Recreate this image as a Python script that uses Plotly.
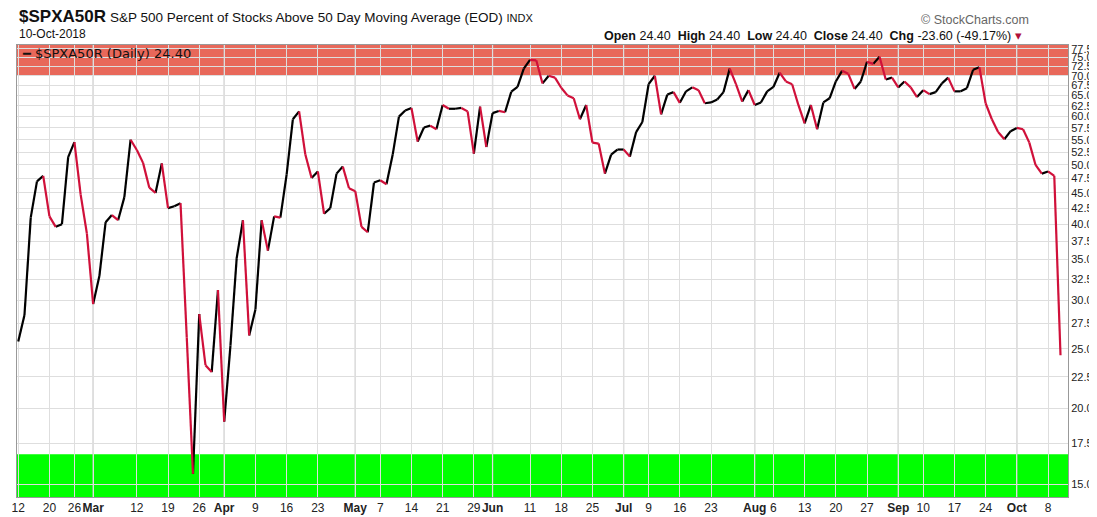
import math
import pandas as pd
import plotly.graph_objects as go

# trading days Feb 12 - Oct 10 2018 (US market holidays removed)
holidays = ["2018-02-19", "2018-03-30", "2018-05-28", "2018-07-04", "2018-09-03"]
dates = [d for d in pd.bdate_range("2018-02-12", "2018-10-10") if d.strftime("%Y-%m-%d") not in holidays]

values = [
    25.7, 28.4, 41.0, 47.0, 48.0, 41.2, 39.6, 40.0, 51.5, 54.5, 44.7, 38.6,
    29.6, 32.9, 40.3, 41.4, 40.6, 44.3, 55.0, 52.9, 50.4, 45.9, 45.0, 50.3,
    42.5, 42.8, 43.3, 26.1, 15.6, 28.5, 23.5, 22.9, 31.2, 19.0, 25.3, 35.2,
    40.6, 26.3, 29.0, 40.6, 36.2, 41.2, 41.0, 48.2, 59.4, 61.2, 52.0, 47.6,
    48.8, 41.6, 42.5, 48.4, 49.7, 45.8, 45.3, 39.6, 38.8, 46.8, 47.2, 46.5,
    52.0, 60.0, 61.4, 62.0, 54.6, 57.6, 58.0, 57.2, 62.7, 61.8, 61.8, 62.0,
    61.2, 52.2, 62.3, 53.5, 60.8, 61.3, 61.0, 65.9, 67.1, 71.9, 74.3, 74.2,
    68.0, 70.0, 69.5, 66.9, 65.0, 64.3, 59.4, 62.7, 54.4, 54.2, 48.4, 52.0,
    53.0, 53.0, 51.6, 56.6, 58.8, 67.8, 70.0, 60.5, 65.2, 65.8, 63.2, 66.0,
    67.0, 66.3, 63.1, 63.3, 64.0, 65.8, 71.9, 67.8, 63.5, 66.3, 62.7, 63.3,
    66.0, 67.1, 70.8, 68.5, 67.8, 62.7, 58.5, 62.7, 57.2, 63.3, 64.3, 68.5,
    71.3, 70.5, 66.6, 68.5, 73.8, 73.2, 75.2, 69.0, 69.5, 67.0, 68.5, 67.0,
    64.6, 66.3, 65.3, 65.8, 68.0, 69.5, 66.0, 66.0, 66.8, 71.6, 72.3, 63.1,
    59.4, 56.6, 55.1, 56.8, 57.5, 57.2, 54.4, 50.0, 48.4, 48.8, 48.0, 24.4,
]

tick_dates = ["2018-02-12", "2018-02-20", "2018-02-26", "2018-03-01", "2018-03-12", "2018-03-19",
              "2018-03-26", "2018-04-02", "2018-04-09", "2018-04-16", "2018-04-23", "2018-05-01",
              "2018-05-07", "2018-05-14", "2018-05-21", "2018-05-29", "2018-06-01", "2018-06-11",
              "2018-06-18", "2018-06-25", "2018-07-02", "2018-07-09", "2018-07-16", "2018-07-23",
              "2018-08-01", "2018-08-06", "2018-08-13", "2018-08-20", "2018-08-27", "2018-09-04",
              "2018-09-10", "2018-09-17", "2018-09-24", "2018-10-01", "2018-10-08"]
tick_labels = ["12", "20", "26", "<b>Mar</b>", "12", "19", "26", "<b>Apr</b>", "9", "16", "23", "<b>May</b>",
               "7", "14", "21", "29", "<b>Jun</b>", "11", "18", "25", "<b>Jul</b>", "9", "16", "23",
               "<b>Aug</b>", "6", "13", "20", "27", "<b>Sep</b>", "10", "17", "24", "<b>Oct</b>", "8"]
y_ticks = [15.0, 17.5, 20.0, 22.5, 25.0, 27.5, 30.0, 32.5, 35.0, 37.5, 40.0, 42.5, 45.0, 47.5, 50.0,
           52.5, 55.0, 57.5, 60.0, 62.5, 65.0, 67.5, 70.0, 72.5, 75.0, 77.5]

date_strs = [d.strftime("%Y-%m-%d") for d in dates]
tick_pos = [date_strs.index(t) for t in tick_dates]
month_pos = [p for p, l in zip(tick_pos, tick_labels) if l.startswith("<b>")]

# split the line into rising (black) and falling (red) segments
up_x, up_y, dn_x, dn_y = [], [], [], []
for i in range(len(values) - 1):
    if values[i + 1] >= values[i]:
        up_x += [i, i + 1, None]; up_y += [values[i], values[i + 1], None]
    else:
        dn_x += [i, i + 1, None]; dn_y += [values[i], values[i + 1], None]

fig = go.Figure()
fig.add_trace(go.Scatter(x=up_x, y=up_y, mode="lines", line=dict(color="black", width=2.2), hoverinfo="skip"))
fig.add_trace(go.Scatter(x=dn_x, y=dn_y, mode="lines", line=dict(color="#d0103a", width=2.2), hoverinfo="skip"))

xr = [-0.2, len(values) - 1 + 1.2]
yr = [14.3, 78.6]
# overbought / oversold bands
fig.add_shape(type="rect", xref="paper", x0=0, x1=1, yref="y", y0=70, y1=yr[1],
              fillcolor="#e8685a", line_width=0, layer="below")
fig.add_shape(type="rect", xref="paper", x0=0, x1=1, yref="y", y0=yr[0], y1=16.8,
              fillcolor="#00ff00", line_width=0, layer="below")
for p in month_pos:
    fig.add_shape(type="line", x0=p, x1=p, yref="paper", y0=0, y1=1, line=dict(color="#c4c4c4", width=1.3),
                  layer="below")

fig.update_xaxes(range=xr, tickvals=tick_pos, ticktext=tick_labels, showgrid=True, gridcolor="#dedede",
                 zeroline=False, showline=True, linecolor="#999999", mirror=True, ticks="", tickangle=0,
                 automargin=False, tickfont=dict(family="Liberation Sans", size=12, color="#222222"))
fig.update_yaxes(type="log", range=[math.log10(yr[0]), math.log10(yr[1])],
                 side="right", tickvals=y_ticks, ticktext=["%.1f" % v for v in y_ticks],
                 showgrid=True, gridcolor="#dedede", zeroline=False, showline=True, linecolor="#999999",
                 mirror=True, ticks="", automargin=False,
                 tickfont=dict(family="Liberation Sans", size=11, color="#222222"))

H = 517
T, B = 37, 28
fig.update_layout(
    width=1097, height=H, showlegend=False, plot_bgcolor="white", paper_bgcolor="white",
    margin=dict(l=9, r=37, t=T, b=B),
    font=dict(family="Liberation Sans", color="#111111"),
)

ann = [
    dict(x=0.0, y=8, text="<b>$SPXA50R</b>", size=17, anchor="left"),
    dict(x=0.087, y=10, text="S&P 500 Percent of Stocks Above 50 Day Moving Average (EOD) <span style='font-size:11px'>INDX</span>", size=13.5, anchor="left"),
    dict(x=0.0, y=26, text="10-Oct-2018", size=12, anchor="left"),
    dict(x=0.965, y=12, text="© StockCharts.com", size=12.5, anchor="right", color="#666666"),
    dict(x=0.958, y=28, text="<b>Open</b> 24.40  <b>High</b> 24.40  <b>Low</b> 24.40  <b>Close</b> 24.40  <b>Chg</b> -23.60 (-49.17%) <span style='color:#b0103a'>▾</span>", size=12.5, anchor="right"),
    dict(x=0.003, y=46, text="<b>━</b> $SPXA50R (Daily) 24.40", size=13, anchor="left", family="DejaVu Sans"),
]
for a in ann:
    fig.add_annotation(xref="paper", yref="paper", x=a["x"], y=(H - a["y"] - B) / (H - T - B),
                       text=a["text"], showarrow=False, xanchor=a["anchor"], yanchor="middle",
                       font=dict(size=a["size"], color=a.get("color", "#111111"),
                                 family=a.get("family", "Liberation Sans")))

fig.write_html("out.html")
